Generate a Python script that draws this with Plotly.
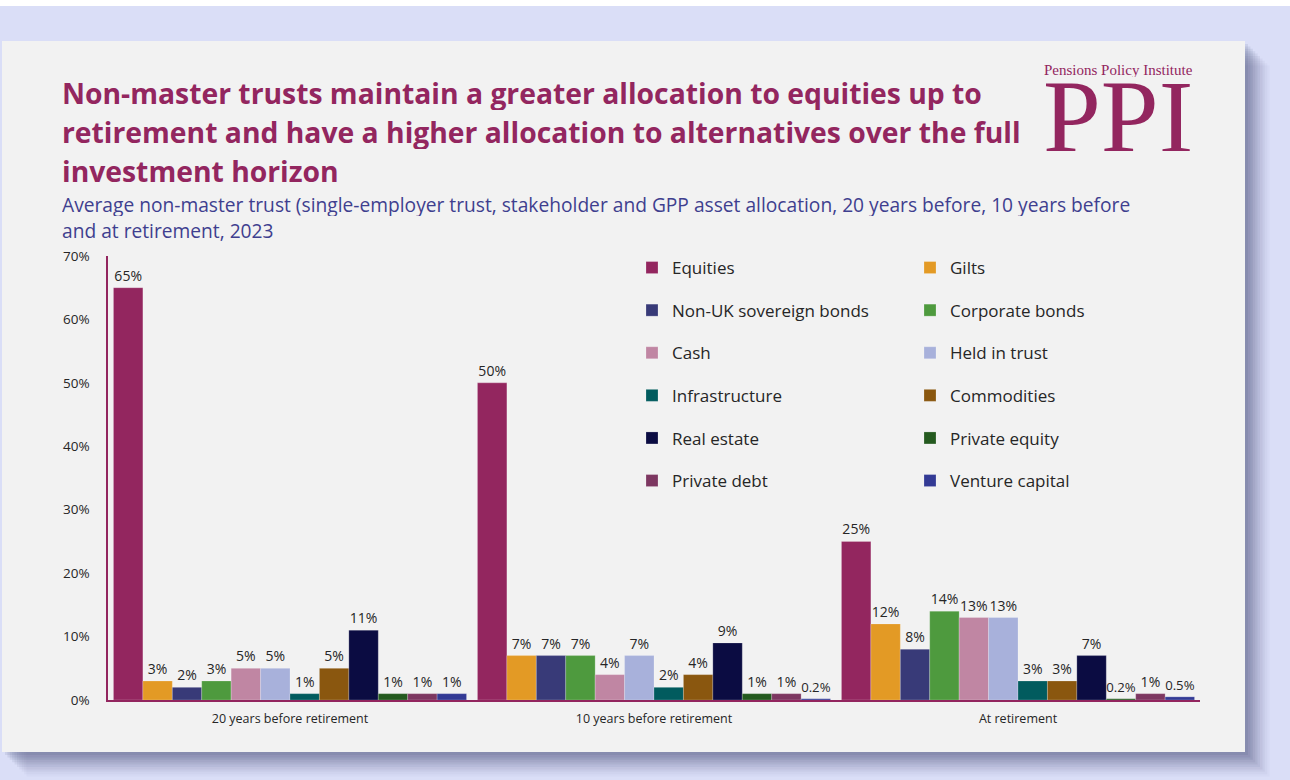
import plotly.graph_objects as go

W, H = 1290, 780

# Asset-allocation data (% of fund) at three points before retirement
stages = ["20 years before retirement", "10 years before retirement", "At retirement"]
assets = ["Equities", "Gilts", "Non-UK sovereign bonds", "Corporate bonds", "Cash",
          "Held in trust", "Infrastructure", "Commodities", "Real estate",
          "Private equity", "Private debt", "Venture capital"]
equities = [65, 50, 25]
gilts = [3, 7, 12]
non_uk_bonds = [2, 7, 8]
corporate_bonds = [3, 7, 14]
cash = [5, 4, 13]
held_in_trust = [5, 7, 13]
infrastructure = [1, 2, 3]
commodities = [5, 4, 3]
real_estate = [11, 9, 7]
private_equity = [1, 1, 0.2]
private_debt = [1, 1, 1]
venture_capital = [1, 0.2, 0.5]

series = [equities, gilts, non_uk_bonds, corporate_bonds, cash, held_in_trust,
          infrastructure, commodities, real_estate, private_equity, private_debt,
          venture_capital]
colors = ["#93265F", "#E39A25", "#383A78", "#4E9A3E", "#C086A3", "#A8B1DB",
          "#015B5E", "#8A570F", "#0B0C42", "#245A1F", "#7D3761", "#333A95"]

PURPLE = "#93265F"
FONT = "Open Sans"


def px(x):
    return x / W


def py(y):
    return 1 - y / H


def fmt(v):
    return f"{v:g}%"


fig = go.Figure()
for i, (name, vals, col) in enumerate(zip(assets, series, colors)):
    fig.add_trace(go.Bar(
        x=stages, y=vals, name=name,
        marker=dict(color=col, line=dict(color="rgba(255,255,255,0.35)", width=0.6)),
        text=[fmt(v) for v in vals], textposition="outside",
        textfont=dict(family=FONT, size=14, color="#262626"),
        cliponaxis=False,
        legend="legend" if i % 2 == 0 else "legend2",
        legendgroup=name,
    ))

shapes = []
# top white strip
shapes.append(dict(type="rect", xref="paper", yref="paper", x0=0, x1=1, y0=py(6), y1=1,
                   fillcolor="white", line_width=0, layer="below"))
# soft shadow under the card
for k, op in enumerate([0.10, 0.10, 0.10, 0.09, 0.08, 0.07, 0.06, 0.05, 0.04, 0.03]):
    d = 3 + k * 2.4
    shapes.append(dict(type="rect", xref="paper", yref="paper",
                       x0=px(2 + d), x1=px(1245 + d), y0=py(752 + d), y1=py(41 + d),
                       fillcolor=f"rgba(70,75,120,{op})", line_width=0, layer="below"))
# card
shapes.append(dict(type="rect", xref="paper", yref="paper", x0=px(2), x1=px(1245),
                   y0=py(752), y1=py(41), fillcolor="#F2F2F2", line_width=0, layer="below"))

annotations = []
title_lines = [
    ("Non-master trusts maintain a greater allocation to equities up to", 93),
    ("retirement and have a higher allocation to alternatives over the full", 132),
    ("investment horizon", 171),
]
for txt, yc in title_lines:
    annotations.append(dict(text=f"<b>{txt}</b>", x=px(60), y=py(yc), xref="paper", yref="paper",
                            xanchor="left", yanchor="middle", showarrow=False,
                            height=34, valign="middle",
                            font=dict(family=FONT, size=28.3, color=PURPLE)))
sub_lines = [
    ("Average non-master trust (single-employer trust, stakeholder and GPP asset allocation, 20 years before, 10 years before", 204),
    ("and at retirement, 2023", 230),
]
for txt, yc in sub_lines:
    annotations.append(dict(text=txt, x=px(60), y=py(yc), xref="paper", yref="paper",
                            xanchor="left", yanchor="middle", showarrow=False,
                            height=24, valign="middle",
                            font=dict(family=FONT, size=19.2, color="#3F3F8F")))
# institute logo
annotations.append(dict(text="Pensions Policy Institute", x=px(1118), y=py(70), xref="paper",
                        yref="paper", xanchor="center", yanchor="middle", showarrow=False,
                        height=14, valign="middle", borderpad=0,
                        font=dict(family="Liberation Serif", size=15, color=PURPLE)))
annotations.append(dict(text="PPI", x=px(1118), y=py(116), xref="paper", yref="paper",
                        xanchor="center", yanchor="middle", showarrow=False,
                        height=70, valign="middle", borderpad=0,
                        font=dict(family="Liberation Serif", size=104, color=PURPLE)))

legend_common = dict(
    orientation="v", bgcolor="rgba(0,0,0,0)", borderwidth=0,
    font=dict(family=FONT, size=17, color="#262626"),
    tracegroupgap=17.5, xanchor="left", yanchor="top", yref="paper", xref="paper",
    itemclick=False, itemdoubleclick=False,
)

fig.update_layout(
    width=W, height=H,
    margin=dict(l=0, r=0, t=0, b=0, autoexpand=False),
    paper_bgcolor="#DADEF7",
    plot_bgcolor="rgba(0,0,0,0)",
    barmode="group", bargap=0.03, bargroupgap=0,
    showlegend=True,
    legend=dict(x=px(632), y=py(250), **legend_common),
    legend2=dict(x=px(910), y=py(250), **legend_common),
    xaxis=dict(domain=[px(108), px(1200)], showline=True, linecolor=PURPLE, linewidth=2,
               ticks="", ticklabelstandoff=6,
               tickfont=dict(family=FONT, size=12.5, color="#262626"),
               showgrid=False, zeroline=False),
    yaxis=dict(domain=[py(700), py(256)], range=[0, 70], dtick=10, ticksuffix="%",
               showline=True, linecolor=PURPLE, linewidth=1.5, showgrid=False,
               zeroline=False, ticks="outside", ticklen=14, tickcolor="rgba(0,0,0,0)",
               tickfont=dict(family=FONT, size=13.5, color="#262626")),
    shapes=shapes,
    annotations=annotations,
    font=dict(family=FONT),
)

fig.write_html("out.html")
